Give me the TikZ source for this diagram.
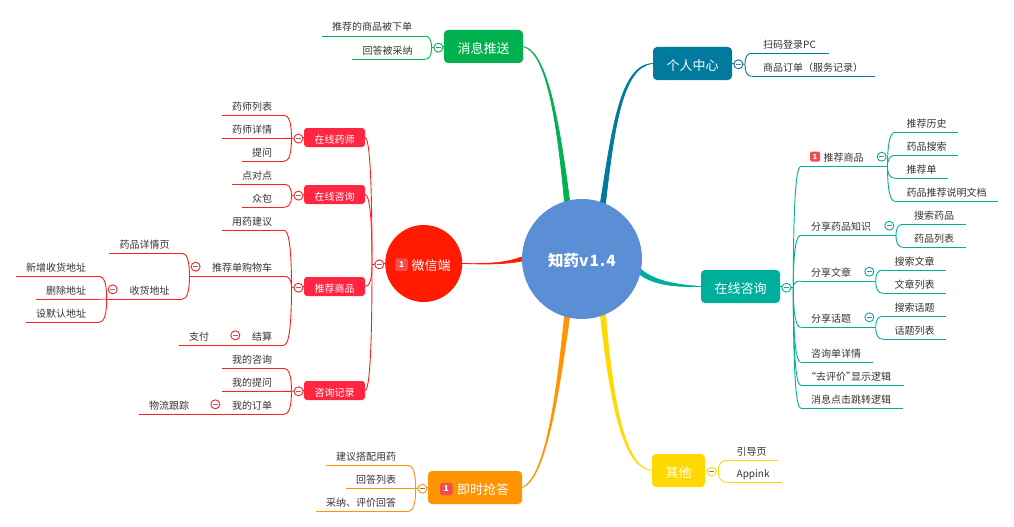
\documentclass[tikz,border=0pt]{standalone}
\usepackage{fontspec}
\setmainfont{Noto Sans CJK SC}
\usetikzlibrary{backgrounds,calc}
\definecolor{cgreen}{HTML}{00B14E}
\definecolor{cblue}{HTML}{027A9E}
\definecolor{cteal}{HTML}{00AF9B}
\definecolor{cyellow}{HTML}{FFD900}
\definecolor{corange}{HTML}{FF9300}
\definecolor{credbox}{HTML}{FF2642}
\definecolor{cred}{HTML}{FF1F1F}
\definecolor{cwx}{HTML}{FF1A00}
\definecolor{cmain}{HTML}{5A8FD6}
\definecolor{cbadge}{HTML}{EE5050}
\definecolor{ctext}{HTML}{333333}
\definecolor{cminus}{HTML}{6A7A9A}
\tikzset{
  x=1pt,y=-1pt,
  conn/.style={line width=.9pt},
  leaf/.style={inner sep=0pt,outer sep=0pt,anchor=south west,text depth=5pt,text height=10pt,text=ctext,font=\fontsize{10}{12}\selectfont},
  topic/.style={rounded corners=4pt,inner sep=0pt,outer sep=0pt,text=white,font=\fontsize{13}{15}\selectfont,text height=15.5pt,text depth=2pt},
  sub/.style={rounded corners=3pt,fill=credbox,inner sep=0pt,outer sep=0pt,text=white,minimum width=61pt,minimum height=19pt,font=\fontsize{10}{12}\selectfont,text height=12.6pt,text depth=1.5pt},
  badge/.style={rounded corners=1.5pt,fill=cbadge,inner sep=0pt,outer sep=0pt,text=white,font=\bfseries\fontsize{8}{9}\selectfont},
  fold/.style={circle,fill=white,line width=.9pt,inner sep=0pt,outer sep=0pt,minimum size=9pt,
    path picture={\draw[cminus,line width=.7pt] ([xshift=-2.4pt]path picture bounding box.center) -- ([xshift=2.4pt]path picture bounding box.center);}},
  branch/.style={line width=.7pt,line join=round}
}
% name, x0, x1, y, pad, text, colour
\newcommand{\lf}[7]{%
  \node[leaf] (#1) at (#2,#4) {\makebox[\dimexpr #3pt-#2pt\relax][l]{\hspace*{#5pt}#6}};
  \draw[conn,#7] (#1.south west) -- (#1.south east);}
% colour, from, to
\newcommand{\kid}[3]{\draw[conn,#1] (#2) .. controls ($(#2)!0.667!(#2 |- #3)$) and ($(#3)!0.667!(#2 |- #3)$) .. (#3);}
% name, x, y, colour
\newcommand{\fd}[4]{\node[fold,draw=#4] (#1) at (#2,#3) {};}
\begin{document}
\begin{tikzpicture}
\useasboundingbox (0,0) rectangle (1014,527);
% central and main topics
\node[circle,fill=cmain,minimum size=120pt,inner sep=0pt,outer sep=0pt,text=white,font=\bfseries\fontsize{15.5}{18}\selectfont,text height=18pt,text depth=2.8pt] (main) at (582,259) {知药v\kern1pt1\kern1pt.\kern1pt4};
\node[circle,fill=cwx,minimum size=77pt,inner sep=0pt,outer sep=0pt,text=white,font=\fontsize{13}{15}\selectfont,text height=15.5pt,text depth=2pt] (wx) at (423.7,263.5) {\hspace*{15pt}微信端};
\node[badge,minimum size=12.5pt] (wxb) at (401.5,264.7) {1};
\node[topic,fill=cgreen,minimum width=79pt,minimum height=33pt] (msg) at (483.5,46.5) {消息推送};
\node[topic,fill=cblue,minimum width=79pt,minimum height=33pt] (me) at (692.5,63.5) {个人中心};
\node[topic,fill=cteal,minimum width=79pt,minimum height=33pt] (zx) at (740.5,286.5) {在线咨询};
\node[topic,fill=cyellow,minimum width=53pt,minimum height=33pt] (qt) at (678.5,470.5) {其他};
\node[topic,fill=corange,minimum width=94pt,minimum height=33pt] (js) at (475,487.5) {\hspace*{16pt}即时抢答};
\node[badge,minimum size=12.5pt] (jsb) at (446.3,489) {1};
% tapered branches
\begin{scope}[on background layer]
\filldraw[branch,cgreen] (msg.east) .. controls (545,50) and (558,110) .. (main.102.5) -- (main.107.5) .. controls (556,110) and (545,52) .. (msg.east);
\filldraw[branch,cblue] (me.west) .. controls (620,64) and (612,130) .. (main.72) -- (main.67) .. controls (614,130) and (622,66) .. (me.west);
\filldraw[branch,cteal] (zx.west) .. controls (680,287) and (655,286) .. (main.-15) -- (main.-10) .. controls (655,282) and (680,285) .. (zx.west);
\filldraw[branch,cyellow] (qt.west) .. controls (622,468) and (610,400) .. (main.-72) -- (main.-67) .. controls (613,400) and (624,468) .. (qt.west);
\filldraw[branch,corange] (js.east) .. controls (545,480) and (558,400) .. (main.-102.5) -- (main.-107.5) .. controls (556,400) and (545,478) .. (js.east);
\filldraw[branch,cwx] (wx.east) .. controls (490,264) and (505,263) .. (main.178) -- (main.182) .. controls (505,264) and (490,264.5) .. (wx.east);
\end{scope}
% ---- WeChat side
\node[sub] (s1) at (334.5,137.5) {在线药师};
\node[sub] (s2) at (334.5,194.5) {在线咨询};
\node[sub] (s3) at (334.5,286.5) {推荐商品};
\node[sub] (s4) at (334.5,390.5) {咨询记录};
\coordinate (jw) at (372,264.5);
\draw[conn,cred] (wx.west) -- (jw);
\kid{cred}{jw}{s1.east}\kid{cred}{jw}{s2.east}\kid{cred}{jw}{s3.east}\kid{cred}{jw}{s4.east}
% s1
\coordinate (j1) at (291.5,138.4);
\draw[conn,cred] (s1.west) -- (j1);
\lf{a1}{222}{284}{115.3}{10}{药师列表}{cred}
\lf{a2}{222}{284}{138.4}{10}{药师详情}{cred}
\lf{a3}{242}{284}{161.3}{10}{提问}{cred}
\kid{cred}{j1}{a1.south east}\kid{cred}{j1}{a2.south east}\kid{cred}{j1}{a3.south east}
% s2
\coordinate (j2) at (291.5,195.6);
\draw[conn,cred] (s2.west) -- (j2);
\lf{b1}{232}{284}{184.3}{10}{点对点}{cred}
\lf{b2}{242}{284}{207.3}{10}{众包}{cred}
\kid{cred}{j2}{b1.south east}\kid{cred}{j2}{b2.south east}
% s3
\coordinate (j3) at (291.5,287.6);
\draw[conn,cred] (s3.west) -- (j3);
\lf{c1}{222}{284}{230.3}{10}{用药建议}{cred}
\lf{c2}{202}{284}{276.2}{10}{推荐单购物车}{cred}
\lf{c3}{242}{284}{345}{10}{结算}{cred}
\kid{cred}{j3}{c1.south east}\kid{cred}{j3}{c2.south east}\kid{cred}{j3}{c3.south east}
\coordinate (j4) at (189.5,276.2);
\draw[conn,cred] (c2.south west) -- (j4);
\lf{d1}{109}{182}{253.3}{10.5}{药品详情页}{cred}
\lf{d2}{119.5}{182}{299.2}{10}{收货地址}{cred}
\kid{cred}{j4}{d1.south east}\kid{cred}{j4}{d2.south east}
\coordinate (j5) at (106.7,299.2);
\draw[conn,cred] (d2.south west) -- (j5);
\lf{e1}{16}{99}{276.2}{10}{新增收货地址}{cred}
\lf{e2}{36}{99}{299.2}{10}{删除地址}{cred}
\lf{e3}{26}{99}{322.3}{10}{设默认地址}{cred}
\kid{cred}{j5}{e1.south east}\kid{cred}{j5}{e2.south east}\kid{cred}{j5}{e3.south east}
\lf{f1}{179}{222}{345}{10}{支付}{cred}
\draw[conn,cred] (c3.south west) -- (f1.south east);
% s4
\coordinate (j6) at (291.5,391.3);
\draw[conn,cred] (s4.west) -- (j6);
\lf{g1}{222}{284}{368.3}{10}{我的咨询}{cred}
\lf{g2}{222}{284}{391.3}{10}{我的提问}{cred}
\lf{g3}{222}{284}{414.3}{10}{我的订单}{cred}
\kid{cred}{j6}{g1.south east}\kid{cred}{j6}{g2.south east}\kid{cred}{j6}{g3.south east}
\lf{g4}{139}{201}{414.3}{10}{物流跟踪}{cred}
\draw[conn,cred] (g3.south west) -- (g4.south east);
% ---- instant answer
\coordinate (j7) at (415.7,488.5);
\draw[conn,corange] (js.west) -- (j7);
\lf{h1}{326}{408}{465.3}{10}{建议搭配用药}{corange}
\lf{h2}{346}{408}{488.5}{10}{回答列表}{corange}
\lf{h3}{316}{408}{511.5}{10}{采纳、评价回答}{corange}
\kid{corange}{j7}{h1.south east}\kid{corange}{j7}{h2.south east}\kid{corange}{j7}{h3.south east}
% ---- messages
\coordinate (j8) at (431.5,47.7);
\draw[conn,cgreen] (msg.west) -- (j8);
\lf{i1}{322}{425}{36}{10}{推荐的商品被下单}{cgreen}
\lf{i2}{352}{425}{59.3}{10.5}{回答被采纳}{cgreen}
\kid{cgreen}{j8}{i1.south east}\kid{cgreen}{j8}{i2.south east}
% ---- personal centre
\coordinate (j9) at (745,64.3);
\draw[conn,cblue] (me.east) -- (j9);
\lf{k1}{751.7}{829}{53.3}{11.5}{扫码登录PC}{cblue}
\lf{k2}{751.7}{875}{76.3}{11.5}{商品订单（服务记录）}{cblue}
\kid{cblue}{j9}{k1.south west}\kid{cblue}{j9}{k2.south west}
% ---- other
\coordinate (j10) at (718.3,471);
\draw[conn,cyellow] (qt.east) -- (j10);
\lf{l1}{726.7}{778}{460.3}{10}{引导页}{cyellow}
\lf{l2}{726.7}{782}{482.3}{10}{Appink}{cyellow}
\kid{cyellow}{j10}{l1.south west}\kid{cyellow}{j10}{l2.south west}
% ---- online consultation
\coordinate (j11) at (793.3,287.7);
\draw[conn,cteal] (zx.east) -- (j11);
\lf{m1}{800.7}{875}{166.3}{23}{推荐商品}{cteal}
\node[badge,minimum size=10pt,font=\bfseries\fontsize{7}{8}\selectfont] (m1b) at (815,156.5) {1};
\lf{m2}{800.7}{883}{235.3}{10.5}{分享药品知识}{cteal}
\lf{m3}{800.7}{863}{281}{10.5}{分享文章}{cteal}
\lf{m4}{800.7}{863}{327.3}{10.5}{分享话题}{cteal}
\lf{m5}{800.7}{873}{362.3}{10.5}{咨询单详情}{cteal}
\lf{m6}{800.7}{904}{385.3}{10.5}{\kern-5pt“去评价”\kern-5pt显示逻辑}{cteal}
\lf{m7}{800.7}{903}{408.3}{10.5}{消息点击跳转逻辑}{cteal}
\kid{cteal}{j11}{m1.south west}\kid{cteal}{j11}{m2.south west}\kid{cteal}{j11}{m3.south west}\kid{cteal}{j11}{m4.south west}\kid{cteal}{j11}{m5.south west}\kid{cteal}{j11}{m6.south west}\kid{cteal}{j11}{m7.south west}
\coordinate (j12) at (887.5,166.3);
\draw[conn,cteal] (m1.south east) -- (j12);
\lf{n1}{895}{958}{132.3}{11.5}{推荐历史}{cteal}
\lf{n2}{895}{958}{155.3}{11.5}{药品搜索}{cteal}
\lf{n3}{895}{948}{178.3}{11.5}{推荐单}{cteal}
\lf{n4}{895}{998}{201.3}{11.5}{药品推荐说明文档}{cteal}
\kid{cteal}{j12}{n1.south west}\kid{cteal}{j12}{n2.south west}\kid{cteal}{j12}{n3.south west}\kid{cteal}{j12}{n4.south west}
\coordinate (j13) at (896,235.3);
\draw[conn,cteal] (m2.south east) -- (j13);
\lf{o1}{903}{966}{224.3}{11}{搜索药品}{cteal}
\lf{o2}{903}{966}{247.3}{11}{药品列表}{cteal}
\kid{cteal}{j13}{o1.south west}\kid{cteal}{j13}{o2.south west}
\coordinate (j14) at (875.7,281);
\draw[conn,cteal] (m3.south east) -- (j14);
\lf{p1}{883}{946}{270}{11.5}{搜索文章}{cteal}
\lf{p2}{883}{946}{293.3}{11.5}{文章列表}{cteal}
\kid{cteal}{j14}{p1.south west}\kid{cteal}{j14}{p2.south west}
\coordinate (j15) at (875.7,327.3);
\draw[conn,cteal] (m4.south east) -- (j15);
\lf{q1}{883}{946}{316.3}{11.5}{搜索话题}{cteal}
\lf{q2}{883}{946}{339.3}{11.5}{话题列表}{cteal}
\kid{cteal}{j15}{q1.south west}\kid{cteal}{j15}{q2.south west}
% ---- fold markers
\fd{fa}{379.3}{264.4}{cred}
\fd{fb}{298.4}{138.6}{cred}
\fd{fc}{298.4}{195.6}{cred}
\fd{fd}{298.4}{287.7}{cred}
\fd{fe}{298.6}{391.3}{cred}
\fd{ff}{195.6}{266.7}{cred}
\fd{fg}{112.7}{289.3}{cred}
\fd{fh}{235.3}{335.3}{cred}
\fd{fi}{215.3}{404.3}{cred}
\fd{fj}{422.3}{488.7}{corange}
\fd{fk}{438.4}{47.7}{cgreen}
\fd{fl}{738.4}{64.3}{cblue}
\fd{fm}{711.7}{471.7}{cyellow}
\fd{fn}{786.4}{287.7}{cteal}
\fd{fo}{881.7}{156.7}{cteal}
\fd{fp}{889.3}{225.7}{cteal}
\fd{fq}{869.3}{271.7}{cteal}
\fd{fr}{869.3}{317.3}{cteal}
\end{tikzpicture}
\end{document}
